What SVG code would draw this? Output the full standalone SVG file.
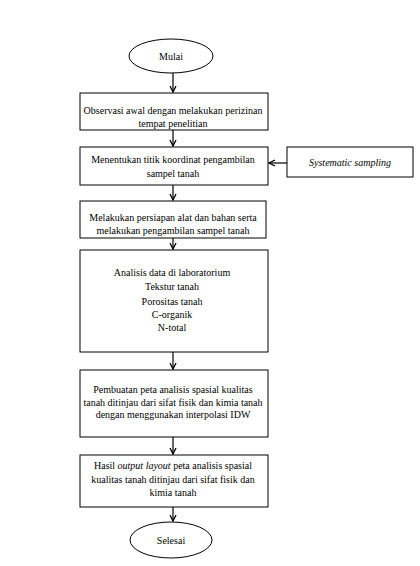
<svg xmlns="http://www.w3.org/2000/svg" width="420" height="566" viewBox="0 0 420 566">
<defs>
<marker id="arr" markerWidth="8" markerHeight="8" refX="7" refY="4" orient="auto" markerUnits="userSpaceOnUse">
<path d="M1,1 L7,4 L1,7" fill="none" stroke="#000" stroke-width="1.3"/>
</marker>
<style>
.box{fill:#fff;stroke:#000;stroke-width:1}
.c{stroke:#000;stroke-width:1.2;fill:none;marker-end:url(#arr)}
</style>
</defs>
<rect width="420" height="566" fill="#fff"/>
<g id="connectors">
<line class="c" x1="173" y1="73" x2="173" y2="92"/>
<line class="c" x1="173" y1="130" x2="173" y2="146"/>
<line class="c" x1="173" y1="185" x2="173" y2="200"/>
<line class="c" x1="173" y1="238" x2="173" y2="249"/>
<line class="c" x1="173" y1="352" x2="173" y2="369"/>
<line class="c" x1="173" y1="437" x2="173" y2="454"/>
<line class="c" x1="173" y1="507" x2="173" y2="521"/>
<line class="c" x1="287" y1="163" x2="269" y2="163"/>
</g>
<g font-family="Liberation Serif, Times New Roman, serif" font-size="10" fill="#000" text-anchor="middle">
<g id="mulai">
<ellipse class="box" cx="171" cy="56" rx="42" ry="17"/>
<text x="171" y="60">Mulai</text>
</g>
<g id="observasi">
<rect class="box" x="80" y="93" width="188" height="37"/>
<text x="173" y="114">Observasi awal dengan melakukan perizinan</text>
<text x="173" y="127">tempat penelitian</text>
</g>
<g id="menentukan">
<rect class="box" x="80" y="147" width="188" height="38"/>
<text x="173" y="163">Menentukan titik  koordinat pengambilan</text>
<text x="173" y="177">sampel tanah</text>
</g>
<g id="systematic">
<rect class="box" x="287" y="147" width="126" height="30"/>
<text x="350" y="166" font-style="italic">Systematic sampling</text>
</g>
<g id="persiapan">
<rect class="box" x="80" y="201" width="186" height="37"/>
<text x="173" y="221">Melakukan persiapan alat dan bahan serta</text>
<text x="173" y="234">melakukan pengambilan  sampel tanah</text>
</g>
<g id="analisis">
<rect class="box" x="80" y="250" width="188" height="102"/>
<text x="172" y="276">Analisis data di laboratorium</text>
<text x="172" y="290">Tekstur tanah</text>
<text x="172" y="305">Porositas tanah</text>
<text x="172" y="318">C-organik</text>
<text x="172" y="331">N-total</text>
</g>
<g id="pembuatan">
<rect class="box" x="80" y="370" width="188" height="67"/>
<text x="173" y="393">Pembuatan peta analisis  spasial kualitas</text>
<text x="173" y="406">tanah ditinjau  dari sifat fisik  dan kimia  tanah</text>
<text x="173" y="418">dengan menggunakan interpolasi  IDW</text>
</g>
<g id="hasil">
<rect class="box" x="80" y="455" width="188" height="52"/>
<text x="173" y="469">Hasil <tspan font-style="italic">output layout</tspan> peta analisis spasial</text>
<text x="173" y="483">kualitas tanah ditinjau  dari sifat fisik  dan</text>
<text x="173" y="496">kimia  tanah</text>
</g>
<g id="selesai">
<ellipse class="box" cx="171" cy="540" rx="41" ry="18"/>
<text x="171" y="544">Selesai</text>
</g>
</g>
</svg>
